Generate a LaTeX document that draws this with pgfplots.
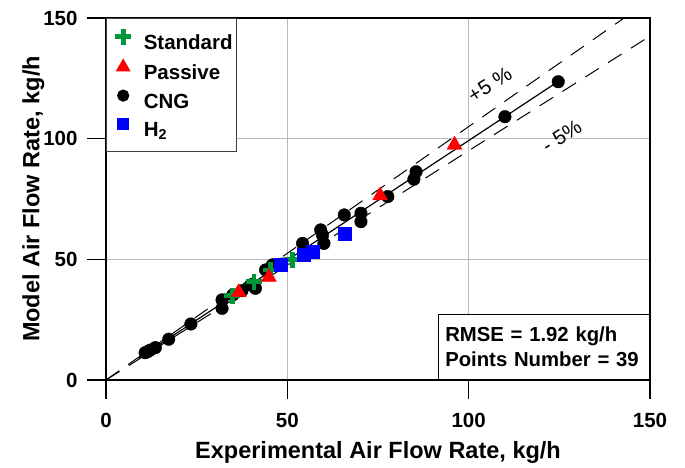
\documentclass[border=0pt]{standalone}
\usepackage{fontspec}
\setmainfont{Liberation Sans}
\usepackage{pgfplots}
\pgfplotsset{compat=1.18}
\definecolor{stdgreen}{RGB}{0,150,60}
\pgfdeclareplotmark{thickplus}{%
  \pgfsetlinewidth{4.8pt}\pgfsetbuttcap
  \pgfpathmoveto{\pgfqpoint{-\pgfplotmarksize}{0pt}}%
  \pgfpathlineto{\pgfqpoint{\pgfplotmarksize}{0pt}}%
  \pgfpathmoveto{\pgfqpoint{0pt}{-\pgfplotmarksize}}%
  \pgfpathlineto{\pgfqpoint{0pt}{\pgfplotmarksize}}%
  \pgfusepathqstroke}
\begin{document}
\begin{tikzpicture}
\begin{axis}[name=ax,
  width=544pt, height=362pt, scale only axis,
  xmin=0, xmax=150, ymin=0, ymax=150,
  xtick={0,50,100,150}, ytick={0,50,100,150},
  tick pos=left, tick align=outside, major tick length=19pt,
  grid=major, grid style={gray!55, line width=1pt},
  axis line style={line width=1.8pt},
  tick style={line width=1.5pt, black},
  /pgf/number format/assume math mode=true,
  tick label style={font=\bfseries\fontsize{20.5}{24}\selectfont},
  xticklabel style={yshift=-11pt},
  yticklabel style={xshift=-6pt},
  label style={font=\bfseries\fontsize{23.5}{28}\selectfont},
  xlabel={Experimental Air Flow Rate, kg/h},
  ylabel={Model Air Flow Rate, kg/h},
  xlabel style={yshift=-7pt},
  ylabel style={yshift=-8pt},
  legend style={at={(0,1)}, anchor=north west, draw=black!75, line width=1.2pt,
    font=\bfseries\fontsize{20.5}{24}\selectfont, row sep=5.5pt,
    inner xsep=4pt, inner ysep=10pt,
    nodes={inner sep=0pt, text height=16pt, text depth=5pt}},
  legend cell align=left,
  legend image code/.code={\path (0pt,0pt) (32pt,0pt); \draw[#1] plot coordinates {(12pt,7pt)};},
]
\addlegendimage{only marks, mark=thickplus, stdgreen, mark size=8pt}
\addlegendentry{Standard}
\addlegendimage{only marks, mark=triangle*, red, mark size=7.5pt}
\addlegendentry{Passive}
\addlegendimage{only marks, mark=*, black, mark size=5.5pt}
\addlegendentry{CNG}
\addlegendimage{only marks, mark=square*, blue, mark size=5.5pt}
\addlegendentry{H\textsubscript{2}}

% +/- 5 % lines
\addplot[forget plot, black, line width=1pt, dash pattern=on 16pt off 11pt] coordinates {(0,0) (142.86,150)};
\addplot[forget plot, black, line width=1pt, dash pattern=on 16pt off 11pt] coordinates {(0,0) (150,142.5)};
% 1:1 line
\addplot[forget plot, black, line width=1.2pt] coordinates {(9,9) (125,124)};

% CNG
\addplot[forget plot, only marks, mark=*, black, mark size=6.3pt] coordinates {
(10.8,11.3) (11.5,11.8) (12.2,12.4) (13.6,13.4) (17.3,16.9) (23.4,23.2)
(32.0,33.2) (32.0,29.7) (35.0,35.3) (37.5,37.0) (39.9,39.4) (41.2,38.0)
(44.0,45.6) (45.9,47.7) (48.5,48.0) (54.2,56.6) (59.2,62.2) (59.7,60.1)
(60.1,56.6) (65.7,68.4) (70.3,69.1) (70.3,65.6) (77.7,76.0) (84.9,83.2)
(85.5,86.3) (110.0,109.1) (124.7,123.6)};
% Standard
\addplot[forget plot, only marks, mark=thickplus, stdgreen, mark size=8pt] coordinates {
(34.8,35.0) (40.8,40.7) (45.4,45.6) (51.4,49.9)};
% Passive
\addplot[forget plot, only marks, mark=triangle*, red, mark size=8.7pt] coordinates {
(36.6,36.3) (44.9,42.6) (75.6,76.4) (96.1,97.4)};
% H2
\addplot[forget plot, only marks, mark=square*, blue, mark size=6.5pt] coordinates {
(48.2,47.6) (54.6,51.8) (56.9,53.2) (65.7,60.8)};

\node[rotate=32, font=\fontsize{20.5}{24}\selectfont] at (axis cs:105.8,122.3) {+5 \%};
\node[rotate=32, font=\fontsize{20.5}{24}\selectfont] at (axis cs:125.7,101.1) {- 5\%};

\node[draw=black, line width=1.5pt, fill=white, anchor=south east, align=left,
  text width=197pt, inner xsep=7pt, inner ysep=7pt, minimum height=65pt,
  font=\bfseries\fontsize{20.3}{25}\selectfont] at (rel axis cs:1,0)
  {RMSE = 1.92 kg/h\\Points Number = 39};
\end{axis}
\path (ax.south west) ++(-106pt,-81pt) rectangle ++(685pt,461pt);
\end{tikzpicture}
\end{document}
